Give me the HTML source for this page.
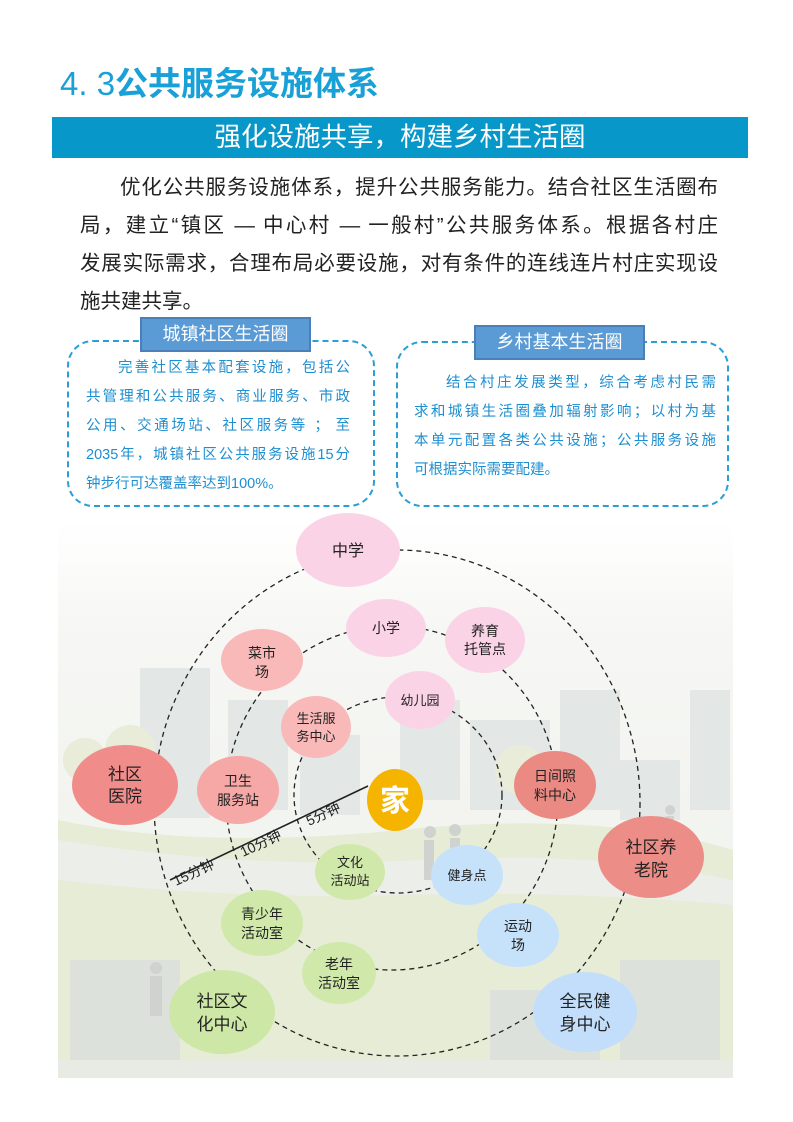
<!DOCTYPE html>
<html><head><meta charset="utf-8">
<style>
*{margin:0;padding:0;box-sizing:border-box}
body{width:793px;height:1122px;background:#fff;position:relative;overflow:hidden;font-family:"Liberation Sans","Noto Sans CJK SC",sans-serif}
.abs{position:absolute}
#title{left:60px;top:57px;font-size:33px;font-weight:bold;color:#19a0d6;white-space:nowrap}
#title span{font-weight:normal}
#banner{left:52px;top:117px;width:696px;height:41px;background:#0897c9;color:#fff;font-size:26.5px;text-align:center;line-height:41px}
.p{left:80px;width:638px;font-size:20.5px;color:#222;text-align:justify;text-align-last:justify;white-space:nowrap;height:38px;line-height:38px}
.box{border:2px dashed #2a9fd6;border-radius:26px}
.lab{background:#5b9bd5;border:2px solid #4a7fb8;color:#fff;font-size:18px;text-align:center}
.bt{font-size:14.5px;color:#1d8fd1;white-space:nowrap;text-align:justify;text-align-last:justify;height:29px;line-height:29px}
</style></head><body>
<div id="title" class="abs"><span>4. 3</span>公共服务设施体系</div>
<div id="banner" class="abs">强化设施共享，构建乡村生活圈</div>
<div class="abs p" style="top:169px;left:120px;width:598px">优化公共服务设施体系，提升公共服务能力。结合社区生活圈布</div>
<div class="abs p" style="top:207px">局，建立“镇区 — 中心村 — 一般村”公共服务体系。根据各村庄</div>
<div class="abs p" style="top:245px">发展实际需求，合理布局必要设施，对有条件的连线连片村庄实现设</div>
<div class="abs p" style="top:283px;text-align-last:left">施共建共享。</div>

<div class="abs box" style="left:67px;top:340px;width:308px;height:167px"></div>
<div class="abs lab" style="left:140px;top:317px;width:171px;height:35px;line-height:31px">城镇社区生活圈</div>
<div class="abs bt" style="left:118px;top:354px;width:232px">完善社区基本配套设施，包括公</div>
<div class="abs bt" style="left:86px;top:383px;width:264px">共管理和公共服务、商业服务、市政</div>
<div class="abs bt" style="left:86px;top:412px;width:264px">公用、交通场站、社区服务等 ； 至</div>
<div class="abs bt" style="left:86px;top:441px;width:264px">2035年，城镇社区公共服务设施15分</div>
<div class="abs bt" style="left:86px;top:470px;text-align-last:left">钟步行可达覆盖率达到100%。</div>

<div class="abs box" style="left:396px;top:341px;width:333px;height:166px"></div>
<div class="abs lab" style="left:474px;top:325px;width:171px;height:35px;line-height:31px">乡村基本生活圈</div>
<div class="abs bt" style="left:446px;top:369px;width:270px">结合村庄发展类型，综合考虑村民需</div>
<div class="abs bt" style="left:414px;top:398px;width:302px">求和城镇生活圈叠加辐射影响；以村为基</div>
<div class="abs bt" style="left:414px;top:427px;width:302px">本单元配置各类公共设施；公共服务设施</div>
<div class="abs bt" style="left:414px;top:456px;text-align-last:left">可根据实际需要配建。</div>

<svg class="abs" style="left:0;top:0" width="793" height="1122" viewBox="0 0 793 1122" font-family="Liberation Sans, Noto Sans CJK SC, sans-serif">
<defs>
<linearGradient id="sky" x1="0" y1="0" x2="0" y2="1">
<stop offset="0" stop-color="#fff"/><stop offset="0.2" stop-color="#f6f7f4"/><stop offset="1" stop-color="#eef0ea"/></linearGradient>
</defs>
<rect x="58" y="520" width="675" height="558" fill="url(#sky)"/>
<g fill="#e3e7e6">
<rect x="140" y="668" width="70" height="150"/><rect x="560" y="690" width="60" height="120"/>
<rect x="690" y="690" width="40" height="120"/><rect x="228" y="700" width="60" height="110"/>
<rect x="300" y="735" width="60" height="80"/><rect x="620" y="760" width="60" height="60"/>
<rect x="400" y="700" width="60" height="100"/><rect x="470" y="720" width="80" height="90"/>
</g>
<g fill="#e8ecd9"><circle cx="85" cy="760" r="22"/><circle cx="130" cy="750" r="25"/><circle cx="520" cy="770" r="25"/></g>
<path d="M58 820 Q200 850 400 830 T733 850 L733 1078 L58 1078Z" fill="#e6ecd6"/>
<path d="M58 840 Q250 870 420 860 T733 880 L733 905 Q560 890 400 895 T58 880Z" fill="#eceeea"/>
<g fill="#dde1dc"><rect x="70" y="960" width="110" height="100"/><rect x="490" y="990" width="110" height="80"/><rect x="620" y="960" width="100" height="110"/></g>
<rect x="58" y="1060" width="675" height="18" fill="#e8ebe4"/>
<g fill="#cfd2cf"><circle cx="455" cy="830" r="6"/><rect x="450" y="838" width="10" height="40"/><circle cx="430" cy="832" r="6"/><rect x="424" y="840" width="10" height="40"/>
<circle cx="156" cy="968" r="6"/><rect x="150" y="976" width="12" height="40"/><circle cx="670" cy="810" r="5"/><rect x="666" y="816" width="8" height="20"/></g>

<g fill="none" stroke="#222" stroke-width="1.3" stroke-dasharray="5,4">
<ellipse cx="397" cy="803" rx="243" ry="253"/>
<ellipse cx="392" cy="798" rx="166" ry="172"/>
<ellipse cx="398" cy="795" rx="104" ry="98"/>
</g>
<line x1="368" y1="786" x2="170" y2="880" stroke="#222" stroke-width="1.6"/>
<g font-size="14" fill="#222">
<text transform="translate(309,826) rotate(-25)">5分钟</text>
<text transform="translate(243,857) rotate(-25)">10分钟</text>
<text transform="translate(176,886) rotate(-25)">15分钟</text>
</g>

<g font-size="14" fill="#222" text-anchor="middle">
<ellipse cx="348" cy="550" rx="52" ry="37" fill="#fbd3e6"/><text x="348" y="556" font-size="16">中学</text>
<ellipse cx="386" cy="628" rx="40" ry="29" fill="#fbd3e6"/><text x="386" y="633">小学</text>
<ellipse cx="485" cy="640" rx="40" ry="33" fill="#fbd3e6"/><text x="485" y="636">养育</text><text x="485" y="654">托管点</text>
<ellipse cx="262" cy="660" rx="41" ry="31" fill="#f9b9b9"/><text x="262" y="658">菜市</text><text x="262" y="677">场</text>
<ellipse cx="420" cy="700" rx="35" ry="29" fill="#fbd3e6"/><text x="420" y="705" font-size="13">幼儿园</text>
<ellipse cx="316" cy="727" rx="35" ry="31" fill="#f9b9b9"/><text x="316" y="723" font-size="13">生活服</text><text x="316" y="741" font-size="13">务中心</text>
<ellipse cx="125" cy="785" rx="53" ry="40" fill="#f08c8a"/><text x="125" y="780" font-size="17">社区</text><text x="125" y="802" font-size="17">医院</text>
<ellipse cx="238" cy="790" rx="41" ry="34" fill="#f6a8a6"/><text x="238" y="786">卫生</text><text x="238" y="805">服务站</text>
<ellipse cx="555" cy="785" rx="41" ry="34" fill="#ea8a82"/><text x="555" y="781">日间照</text><text x="555" y="800">料中心</text>
<ellipse cx="395" cy="800" rx="28" ry="31" fill="#f5b400"/><text x="395" y="811" font-size="30" font-weight="bold" fill="#fff">家</text>
<ellipse cx="651" cy="857" rx="53" ry="41" fill="#ec8d87"/><text x="651" y="853" font-size="17">社区养</text><text x="651" y="876" font-size="17">老院</text>
<ellipse cx="350" cy="872" rx="35" ry="28" fill="#d0e9ab"/><text x="350" y="867" font-size="13">文化</text><text x="350" y="885" font-size="13">活动站</text>
<ellipse cx="467" cy="875" rx="36" ry="30" fill="#c6e2fa"/><text x="467" y="880" font-size="13">健身点</text>
<ellipse cx="262" cy="923" rx="41" ry="33" fill="#d0e9ab"/><text x="262" y="919">青少年</text><text x="262" y="938">活动室</text>
<ellipse cx="518" cy="935" rx="41" ry="32" fill="#c6e2fa"/><text x="518" y="931">运动</text><text x="518" y="950">场</text>
<ellipse cx="339" cy="973" rx="37" ry="31" fill="#d0e9ab"/><text x="339" y="969">老年</text><text x="339" y="988">活动室</text>
<ellipse cx="222" cy="1012" rx="53" ry="42" fill="#cde8a6"/><text x="222" y="1007" font-size="17">社区文</text><text x="222" y="1030" font-size="17">化中心</text>
<ellipse cx="585" cy="1012" rx="52" ry="40" fill="#c3defa"/><text x="585" y="1007" font-size="17">全民健</text><text x="585" y="1030" font-size="17">身中心</text>
</g>
</svg>
</body></html>
